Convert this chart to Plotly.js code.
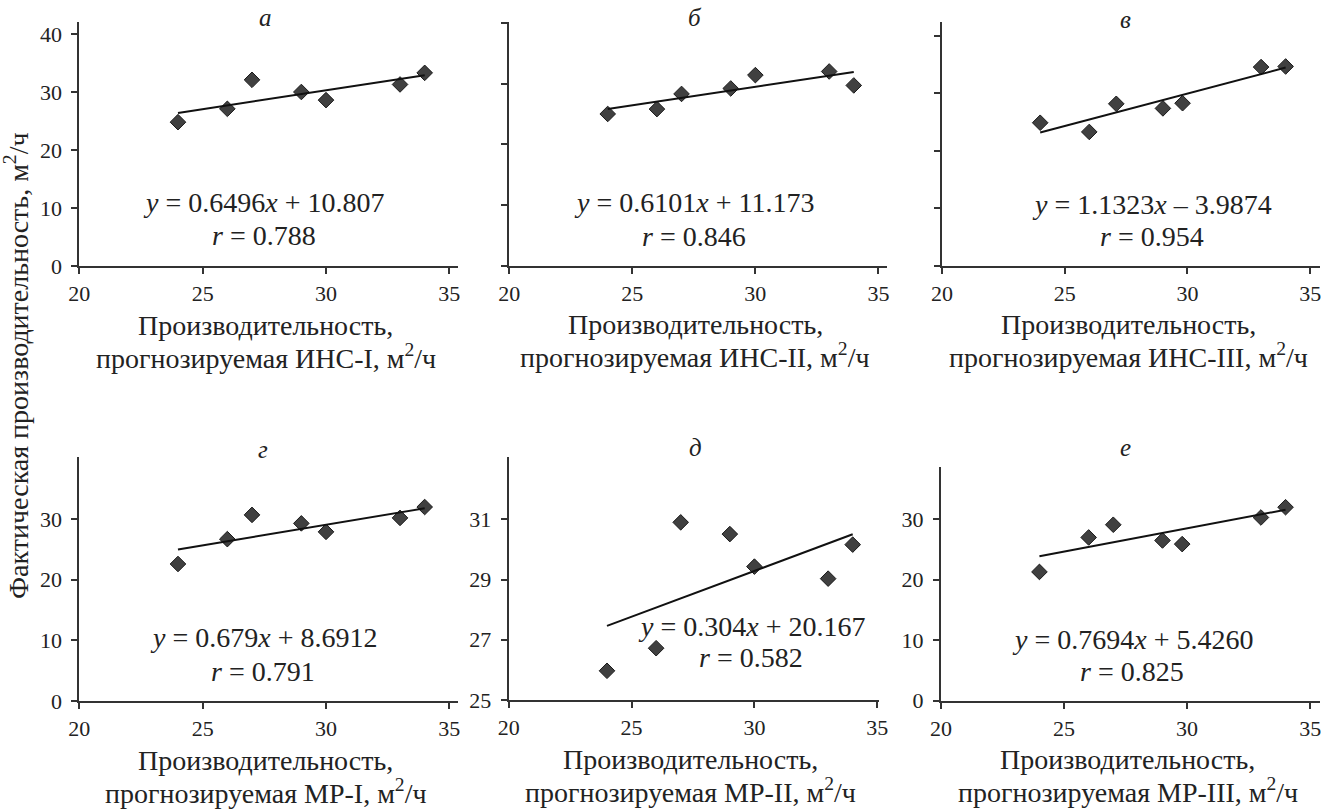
<!DOCTYPE html>
<html>
<head>
<meta charset="utf-8">
<script src="https://cdn.plot.ly/plotly-3.0.1.min.js"></script>
<style>
html,body{margin:0;padding:0;background:#fff;font-family:'Liberation Serif', serif;}
#chart{width:1339px;height:811px;}
#chart svg text, #chart svg tspan{font-family:'Liberation Serif', serif !important;}
</style>
</head>
<body>
<div id="chart"></div>
<script>
// ---- data ----
const panelLetters = ['а', 'б', 'в', 'г', 'д', 'е'];
const modelNames = ['ИНС-I', 'ИНС-II', 'ИНС-III', 'МР-I', 'МР-II', 'МР-III'];

const xA = [24, 26, 27, 29, 30, 33, 34];
const yA = [24.8, 27.1, 32.1, 30.0, 28.6, 31.3, 33.3];
const xB = [24, 26, 27, 29, 30, 33, 34];
const yB = [25.0, 25.8, 28.3, 29.2, 31.4, 32.0, 29.7];
const xC = [24, 26, 27.1, 29, 29.8, 33, 34];
const yC = [24.9, 23.3, 28.2, 27.4, 28.3, 34.6, 34.7];
const xD = [24, 26, 27, 29, 30, 33, 34];
const yD = [22.6, 26.7, 30.7, 29.3, 27.9, 30.2, 32.0];
const xE = [24, 26, 27, 29, 30, 33, 34];
const yE = [25.97, 26.72, 30.90, 30.51, 29.43, 29.03, 30.16];
const xF = [24, 26, 27, 29, 29.8, 33, 34];
const yF = [21.3, 27.0, 29.1, 26.5, 25.9, 30.3, 32.0];

const slopes = [0.6496, 0.6101, 1.1323, 0.679, 0.304, 0.7694];
const intercepts = [10.807, 11.173, -3.9874, 8.6912, 20.167, 5.4260];
const eqTexts = ['<i>y</i> = 0.6496<i>x</i> + 10.807', '<i>y</i> = 0.6101<i>x</i> + 11.173',
                 '<i>y</i> = 1.1323<i>x</i> – 3.9874', '<i>y</i> = 0.679<i>x</i> + 8.6912',
                 '<i>y</i> = 0.304<i>x</i> + 20.167', '<i>y</i> = 0.7694<i>x</i> + 5.4260'];
const rTexts = ['<i>r</i> = 0.788', '<i>r</i> = 0.846', '<i>r</i> = 0.954',
                '<i>r</i> = 0.791', '<i>r</i> = 0.582', '<i>r</i> = 0.825'];
const fitRange = [24, 34];

const xTickVals = [20, 25, 30, 35];
const yTickVals = [[0, 10, 20, 30, 40], [0, 10, 20, 30, 40], [0, 10, 20, 30, 40],
                   [0, 10, 20, 30], [25, 27, 29, 31], [0, 10, 20, 30]];
const yTickLabelsShown = [true, false, false, true, true, true];

const xTitleLine1 = 'Производительность,';
const yTitle = 'Фактическая производительность, м<sup>2</sup>/ч';

// ---- layout geometry (pixels) ----
const W = 1339, H = 811;
const boxes = [ // [left, right, top, bottom, xmax, ymin, ymax]
  [79.3, 458, 22, 266, 35.35, 0, 42.07],
  [509.3, 887, 21.7, 265.7, 35.35, 0, 40.2],
  [942, 1320, 21.7, 265.7, 35.4, 0, 42.5],
  [79.3, 458, 457.3, 701, 35.35, 0, 40.2],
  [508.7, 878.5, 456.7, 700, 35.05, 25, 33.08],
  [941, 1320, 466.7, 700.7, 35.4, 0, 38.7]
];
const letterPos = [[265, 18], [695, 17], [1125, 19], [263, 449], [695, 447], [1125, 448]];
const eqPos = [[263.5, 202, 235], [693.5, 202.5, 236], [1152, 204, 236],
               [263, 637.5, 671], [751, 626, 657.5], [1132, 639, 671]];

const xs = [xA, xB, xC, xD, xE, xF];
const ys = [yA, yB, yC, yD, yE, yF];

const FONT = 'Liberation Serif';
const INK = '#222';
const traces = [];
const layout = {
  width: W, height: H,
  margin: {l: 0, r: 0, t: 0, b: 0},
  paper_bgcolor: '#fff', plot_bgcolor: '#fff',
  showlegend: false,
  annotations: []
};

for (let i = 0; i < 6; i++) {
  const n = i === 0 ? '' : String(i + 1);
  const [l, r, t, b, xmax, ymin, ymax] = boxes[i];
  layout['xaxis' + n] = {
    domain: [l / W, r / W], range: [20, xmax], anchor: 'y' + n,
    showline: true, linecolor: '#333', linewidth: 2,
    ticks: 'outside', ticklen: 6, tickwidth: 2, tickcolor: '#333',
    ticklabelstandoff: 1,
    tickvals: xTickVals, showgrid: false, zeroline: false,
    tickfont: {family: FONT, size: 22, color: INK}, fixedrange: true
  };
  layout['yaxis' + n] = {
    domain: [1 - b / H, 1 - t / H], range: [ymin, ymax], anchor: 'x' + n,
    showline: true, linecolor: '#333', linewidth: 2,
    ticks: 'outside', ticklen: 6, tickwidth: 2, tickcolor: '#333',
    ticklabelstandoff: 5,
    tickvals: yTickVals[i], showticklabels: yTickLabelsShown[i],
    showgrid: false, zeroline: false,
    tickfont: {family: FONT, size: 22, color: INK}, fixedrange: true
  };
  traces.push({
    type: 'scatter', mode: 'markers', x: xs[i], y: ys[i],
    xaxis: 'x' + n, yaxis: 'y' + n, cliponaxis: false,
    marker: {symbol: 'diamond', size: 12, color: '#404040', line: {color: '#1a1a1a', width: 1}}
  });
  traces.push({
    type: 'scatter', mode: 'lines', x: fitRange,
    y: fitRange.map(v => slopes[i] * v + intercepts[i]),
    xaxis: 'x' + n, yaxis: 'y' + n,
    line: {color: '#111', width: 2}
  });
  layout.annotations.push({
    xref: 'paper', yref: 'paper', x: letterPos[i][0] / W, y: 1 - letterPos[i][1] / H,
    xanchor: 'center', yanchor: 'middle', showarrow: false,
    text: '<i>' + panelLetters[i] + '</i>', font: {family: FONT, size: 25, color: INK}
  });
  layout.annotations.push({
    xref: 'paper', yref: 'paper', x: eqPos[i][0] / W, y: 1 - eqPos[i][1] / H,
    xanchor: 'center', yanchor: 'middle', showarrow: false,
    text: eqTexts[i], font: {family: FONT, size: 28, color: INK}
  });
  layout.annotations.push({
    xref: 'paper', yref: 'paper', x: eqPos[i][0] / W, y: 1 - eqPos[i][2] / H,
    xanchor: 'center', yanchor: 'middle', showarrow: false,
    text: rTexts[i], font: {family: FONT, size: 28, color: INK}
  });
  const cx = (l + r) / 2 - 3;
  layout.annotations.push({
    xref: 'paper', yref: 'paper', x: cx / W, y: 1 - (b + 59) / H,
    xanchor: 'center', yanchor: 'middle', showarrow: false,
    text: xTitleLine1, font: {family: FONT, size: 28, color: INK}
  });
  layout.annotations.push({
    xref: 'paper', yref: 'paper', x: cx / W, y: 1 - (b + 90) / H,
    xanchor: 'center', yanchor: 'middle', showarrow: false,
    text: 'прогнозируемая ' + modelNames[i] + ', м<sup>2</sup>/ч',
    font: {family: FONT, size: 28, color: INK}
  });
}
layout.annotations.push({
  xref: 'paper', yref: 'paper', x: 17 / W, y: 1 - 366 / H,
  xanchor: 'center', yanchor: 'middle', showarrow: false, textangle: -90,
  text: yTitle, font: {family: FONT, size: 28, color: INK}
});

Plotly.newPlot('chart', traces, layout, {displayModeBar: false});
</script>
</body>
</html>
